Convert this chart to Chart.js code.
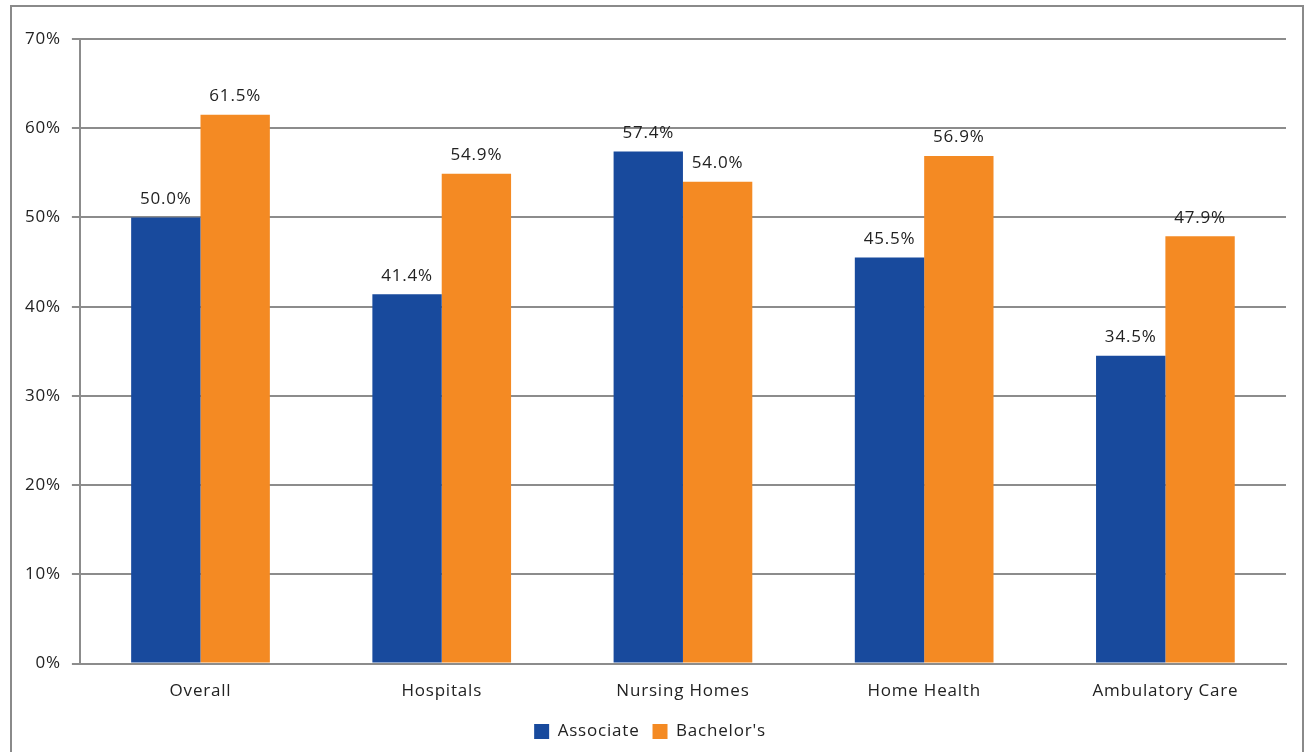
<!DOCTYPE html>
<html>
<head>
<meta charset="utf-8">
<script src="https://cdn.jsdelivr.net/npm/chart.js@4"></script>
<style>
  html, body { margin: 0; padding: 0; background: #fff; }
  body { width: 1308px; height: 752px; overflow: hidden; position: relative; }
  #frame { position: absolute; left: 10px; top: 5px; width: 1294px; height: 780px; border: 2px solid #8a8a8a; box-sizing: border-box; }
  #wrap { position: absolute; left: 0; top: 0; width: 1308px; height: 752px; }
</style>
</head>
<body>
<div id="frame"></div>
<div id="wrap"><canvas id="chart"></canvas></div>
<script>
const categories = ['Overall', 'Hospitals', 'Nursing Homes', 'Home Health', 'Ambulatory Care'];
const associate = [50.0, 41.4, 57.4, 45.5, 34.5];
const bachelors = [61.5, 54.9, 54.0, 56.9, 47.9];
const yTicks = [0, 10, 20, 30, 40, 50, 60, 70];

const FONT = '"Open Sans", "Noto Sans", sans-serif';
const SIZE = 17;
const SPACING = '0.8px';
const gridGray = '#8c8c8c';

// the source text is a bit spread out
const spacing = {
  id: 'spacing',
  beforeLayout(chart) { chart.ctx.letterSpacing = SPACING; },
  beforeDraw(chart) { chart.ctx.letterSpacing = SPACING; }
};

// draws the value above each bar
const barLabels = {
  id: 'barLabels',
  afterDatasetsDraw(chart) {
    const ctx = chart.ctx;
    ctx.save();
    ctx.font = SIZE + 'px ' + FONT;
    ctx.letterSpacing = SPACING;
    ctx.fillStyle = '#222';
    ctx.textAlign = 'center';
    ctx.textBaseline = 'bottom';
    chart.data.datasets.forEach((ds, i) => {
      chart.getDatasetMeta(i).data.forEach((bar, j) => {
        ctx.fillText(ds.data[j].toFixed(1) + '%', bar.x, bar.y - 10);
      });
    });
    ctx.restore();
  }
};

new Chart(document.getElementById('chart'), {
  type: 'bar',
  data: {
    labels: categories,
    datasets: [
      { label: 'Associate', data: associate, backgroundColor: '#184a9d', borderWidth: 0 },
      { label: "Bachelor's", data: bachelors, backgroundColor: '#f48a23', borderWidth: 0 }
    ]
  },
  options: {
    responsive: true,
    maintainAspectRatio: false,
    animation: false,
    layout: { padding: { left: 14, right: 22, top: 39, bottom: 2 } },
    datasets: { bar: { barPercentage: 1, categoryPercentage: 0.575 } },
    plugins: {
      legend: {
        position: 'bottom',
        labels: { font: { family: FONT, size: SIZE }, color: '#222', boxWidth: 15, boxHeight: 15, padding: 13 }
      },
      tooltip: { enabled: false }
    },
    scales: {
      y: {
        min: 0, max: 70,
        afterBuildTicks: (axis) => { axis.ticks = yTicks.map(v => ({ value: v })); },
        ticks: { callback: v => v + '%', font: { family: FONT, size: SIZE }, color: '#222', padding: 11 },
        grid: { color: gridGray, lineWidth: 2, tickLength: 8 },
        border: { display: true, color: gridGray, width: 2 }
      },
      x: {
        ticks: { font: { family: FONT, size: SIZE }, color: '#222', padding: 9 },
        grid: { display: false },
        border: { display: true, color: gridGray, width: 2 }
      }
    }
  },
  plugins: [spacing, barLabels]
});
</script>
</body>
</html>
